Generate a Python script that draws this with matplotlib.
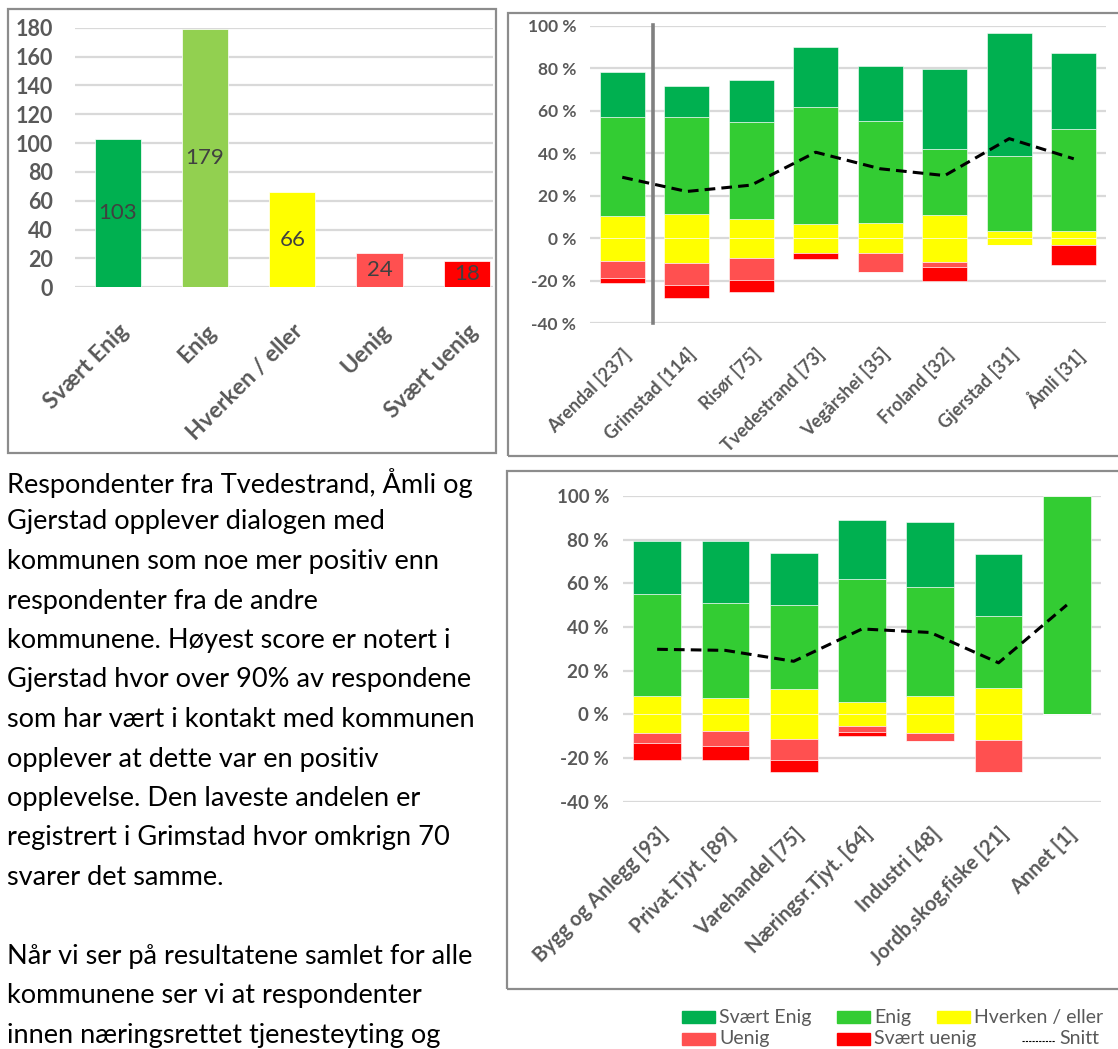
import numpy as np
import matplotlib.pyplot as plt
from matplotlib.patches import Rectangle
from matplotlib.lines import Line2D

plt.rcParams['font.family'] = ['Lato', 'DejaVu Sans']

# --- data -------------------------------------------------------------
svar = ['Svært Enig', 'Enig', 'Hverken / eller', 'Uenig', 'Svært uenig']
antall = [103, 179, 66, 24, 18]

kommuner = ['Arendal [237]', 'Grimstad [114]', 'Risør [75]', 'Tvedestrand [73]',
            'Vegårshei [35]', 'Froland [32]', 'Gjerstad [31]', 'Åmli [31]']
k_svaert_enig = [21.2, 14.7, 20.0, 28.4, 25.7, 37.4, 57.9, 35.5]
k_enig = [46.6, 45.5, 45.5, 54.8, 48.1, 31.2, 35.5, 48.4]
k_hverken = [21.2, 23.1, 18.4, 13.8, 14.4, 22.1, 6.4, 6.4]
k_uenig = [8.2, 10.5, 10.6, 0.0, 8.6, 2.6, 0.0, 0.0]
k_svaert_uenig = [2.3, 6.0, 5.5, 2.7, 0.0, 6.6, 0.0, 9.6]
k_snitt = [28.7, 22.0, 25.0, 40.5, 32.7, 29.5, 46.9, 37.4]

bransjer = ['Bygg og Anlegg [93]', 'Privat.Tjyt. [89]', 'Varehandel [75]',
            'Næringsr.Tjyt. [64]', 'Industri [48]', 'Jordb,skog,fiske [21]', 'Annet [1]']
b_svaert_enig = [24.3, 28.2, 23.7, 26.8, 29.5, 28.7, 0.0]
b_enig = [46.4, 43.7, 38.8, 56.5, 50.2, 33.1, 100.0]
b_hverken = [17.2, 14.8, 22.9, 11.0, 16.7, 23.7, 0.0]
b_uenig = [4.3, 6.9, 9.3, 2.7, 3.8, 14.7, 0.0]
b_svaert_uenig = [7.8, 6.4, 5.5, 1.6, 0.0, 0.0, 0.0]
b_snitt = [29.8, 29.3, 24.3, 39.1, 37.5, 23.6, 50.1]

tekst = [
    'Respondenter fra Tvedestrand, Åmli og',
    'Gjerstad opplever dialogen med',
    'kommunen som noe mer positiv enn',
    'respondenter fra de andre',
    'kommunene. Høyest score er notert i',
    'Gjerstad hvor over 90% av respondene',
    'som har vært i kontakt med kommunen',
    'opplever at dette var en positiv',
    'opplevelse. Den laveste andelen er',
    'registrert i Grimstad hvor omkrign 70',
    'svarer det samme.',
    '',
    'Når vi ser på resultatene samlet for alle',
    'kommunene ser vi at respondenter',
    'innen næringsrettet tjenesteyting og',
]

# colours
c_se = '#00B050'
c_e1 = '#92D050'
c_e = '#33CC33'
c_h = '#FFFF00'
c_u = '#FF5050'
c_su = '#FF0000'
grey = '#595959'
gridc = '#D9D9D9'

W, H = 1118, 1049
fig = plt.figure(figsize=(W / 100, H / 100), dpi=100)
fig.set_facecolor('white')


def px_axes(x0, y0, x1, y1):
    # pixel box (top-left origin) -> axes
    return fig.add_axes([x0 / W, 1 - y1 / H, (x1 - x0) / W, (y1 - y0) / H])


def frame(x0, y0, x1, y1):
    fig.patches.append(Rectangle((x0 / W, 1 - y1 / H), (x1 - x0) / W, (y1 - y0) / H,
                                 transform=fig.transFigure, fill=False,
                                 edgecolor='#8C8C8C', linewidth=1.6, zorder=0))


def style(ax):
    for s in ax.spines.values():
        s.set_visible(False)
    ax.yaxis.grid(True, color=gridc, linewidth=1.6)
    ax.set_axisbelow(True)
    ax.tick_params(length=0, colors=grey)


# --- panel 1: counts ----------------------------------------------------
frame(8, 9, 496, 453)
ax1 = px_axes(75, 27.7, 493, 287.3)
style(ax1)
x1 = np.arange(len(svar))
cols1 = [c_se, c_e1, c_h, c_u, c_su]
ax1.bar(x1, antall, width=0.53, color=cols1, edgecolor='white', linewidth=0.5)
for xi, v in zip(x1, antall):
    ax1.text(xi, v / 2, str(v), ha='center', va='center', fontsize=16, color='#404040')
ax1.set_ylim(0, 180)
ax1.set_yticks(range(0, 181, 20))
ax1.set_xlim(-0.49, 4.30)
ax1.set_xticks(x1)
ax1.set_xticklabels(svar, rotation=45, ha='right', va='top', rotation_mode='anchor',
                    fontsize=16.5, fontweight='bold', color=grey)
ax1.tick_params(axis='x', pad=24)
ax1.tick_params(axis='y', pad=16)
for t in ax1.get_yticklabels():
    t.set_fontsize(15.5)
    t.set_fontweight('bold')


def diverging(ax, se, e, h, u, su, snitt, labels, fs, fsx):
    style(ax)
    x = np.arange(len(labels))
    se, e, h, u, su = map(np.array, (se, e, h, u, su))
    half = h / 2
    kw = dict(width=0.7, edgecolor='white', linewidth=0.4)
    ax.bar(x, half, color=c_h, **kw)
    ax.bar(x, e, bottom=half, color=c_e, **kw)
    ax.bar(x, se, bottom=half + e, color=c_se, **kw)
    ax.bar(x, -half, color=c_h, **kw)
    ax.bar(x, -u, bottom=-half, color=c_u, **kw)
    ax.bar(x, -su, bottom=-half - u, color=c_su, **kw)
    ax.plot(x, snitt, color='black', linestyle=(0, (3.5, 2)), linewidth=2.2)
    ax.set_ylim(-40, 100)
    ax.set_yticks(range(-40, 101, 20))
    ax.set_yticklabels([f'{v} %' for v in range(-40, 101, 20)],
                       fontsize=fs, fontweight='bold', color=grey)
    ax.set_xlim(-0.5, len(labels) - 0.5)
    ax.set_xticks(x)
    ax.set_xticklabels(labels, rotation=45, ha='right', va='top', rotation_mode='anchor',
                       fontsize=fsx, fontweight='bold', color=grey)
    ax.tick_params(axis='x', pad=16)
    ax.tick_params(axis='y', pad=10)
    return x


# --- panel 2: kommuner ---------------------------------------------------
frame(508, 12.7, 1125, 455.7)
ax2 = px_axes(590, 26, 1106, 323)
diverging(ax2, k_svaert_enig, k_enig, k_hverken, k_uenig, k_svaert_uenig,
          k_snitt, kommuner, 12.5, 13)
ax2.plot([0.48, 0.48], [-40, 100.5], color='#808080', linewidth=2.6, clip_on=False)

# --- panel 3: bransjer ---------------------------------------------------
frame(507, 471, 1125, 989)
ax3 = px_axes(623, 496, 1101, 801.7)
diverging(ax3, b_svaert_enig, b_enig, b_hverken, b_uenig, b_svaert_uenig,
          b_snitt, bransjer, 13.5, 14.5)

# --- legend ---------------------------------------------------------------
legend_items = [
    ('Svært Enig', c_se, 682, 1017),
    ('Enig', c_e, 837, 1017),
    ('Hverken / eller', c_h, 937, 1017),
    ('Uenig', c_u, 682, 1038.5),
    ('Svært uenig', c_su, 837, 1038.5),
]
for lab, col, lx, ly in legend_items:
    fig.patches.append(Rectangle((lx / W, 1 - (ly + 6) / H), 33 / W, 12 / H,
                                 transform=fig.transFigure, color=col))
    fig.text((lx + 37) / W, 1 - ly / H, lab, ha='left', va='center',
             fontsize=14, color=grey)
fig.lines.append(Line2D([1022 / W, 1055 / W], [1 - 1041 / H, 1 - 1041 / H],
                        transform=fig.transFigure, color='black',
                        linestyle=(0, (2, 1)), linewidth=0.8))
fig.text(1059 / W, 1 - 1038.5 / H, 'Snitt', ha='left', va='center',
         fontsize=14, color=grey)

# --- paragraph -------------------------------------------------------------
for i, line in enumerate(tekst):
    fig.text(7 / W, 1 - (482.5 + i * 39.5) / H, line, ha='left', va='center',
             fontsize=19.5, color='black')

fig.savefig('out.png', dpi=100)
